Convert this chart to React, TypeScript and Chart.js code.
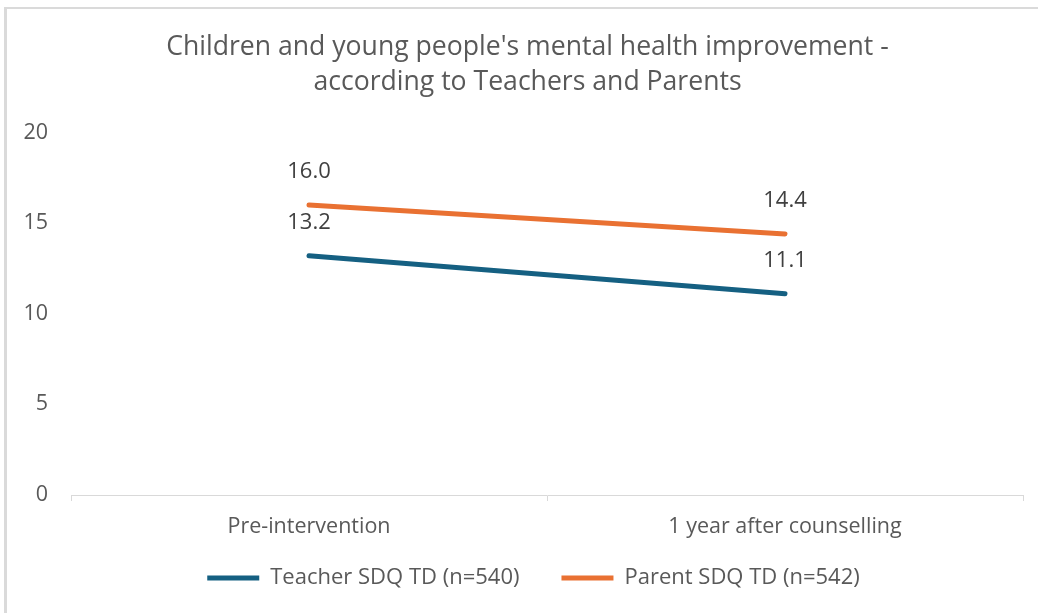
import React, { useEffect, useRef } from "react";
import { Chart, registerables } from "chart.js";

Chart.register(...registerables);

const categories = ["Pre-intervention", "1 year after counselling"];
const teacherValues = [13.2, 11.1];
const parentValues = [16.0, 14.4];
const seriesNames = ["Teacher SDQ TD (n=540)", "Parent SDQ TD (n=542)"];
const seriesColors = ["#156082", "#E97132"];
const titleLines = [
  "Children and young people's mental health improvement -",
  "according to Teachers and Parents",
];
const yMin = 0;
const yMax = 20;
const yStep = 5;

const FONT = "'Open Sans', 'Noto Sans', sans-serif";
const TEXT = "#595959";

const dataLabelPlugin = {
  id: "dataLabels",
  afterDatasetsDraw(chart: any) {
    const ctx = chart.ctx;
    ctx.save();
    ctx.font = `22px ${FONT}`;
    ctx.fillStyle = "#404040";
    ctx.textAlign = "center";
    ctx.textBaseline = "middle";
    chart.data.datasets.forEach((ds: any, di: number) => {
      const meta = chart.getDatasetMeta(di);
      meta.data.forEach((pt: any, i: number) => {
        ctx.fillText(Number(ds.data[i]).toFixed(1), pt.x, pt.y - 33);
      });
    });
    ctx.restore();
  },
};

const layoutTweaks = {
  id: "layoutTweaks",
  afterInit(chart: any) {
    const leg = chart.legend;
    if (leg && !leg.__patched) {
      leg.__patched = true;
      const origFit = leg.fit.bind(leg);
      leg.fit = function () {
        origFit();
        this.height = 68;
      };
      const origDraw = leg.draw.bind(leg);
      leg.draw = function () {
        const c = this.ctx;
        c.save();
        c.translate(22, -20);
        origDraw();
        c.restore();
      };
    }
  },
  afterLayout(chart: any) {
    const t = chart.titleBlock;
    if (t) {
      t.left += 16;
      t.right += 16;
    }
  },
};

export default function App() {
  const ref = useRef<HTMLCanvasElement | null>(null);
  useEffect(() => {
    if (!ref.current) return;
    const chart = new Chart(ref.current, {
      type: "line",
      data: {
        labels: categories,
        datasets: [
          {
            label: seriesNames[0],
            data: teacherValues,
            borderColor: seriesColors[0],
            backgroundColor: seriesColors[0],
            borderWidth: 5,
            borderCapStyle: "round",
            pointRadius: 0,
            pointStyle: "line",
          },
          {
            label: seriesNames[1],
            data: parentValues,
            borderColor: seriesColors[1],
            backgroundColor: seriesColors[1],
            borderWidth: 5,
            borderCapStyle: "round",
            pointRadius: 0,
            pointStyle: "line",
          },
        ],
      },
      options: {
        animation: false,
        responsive: false,
        maintainAspectRatio: false,
        layout: { padding: { left: 0, right: 15, top: 0, bottom: 0 } },
        plugins: {
          tooltip: { enabled: false },
          title: {
            display: true,
            text: titleLines,
            color: TEXT,
            font: { family: FONT, size: 26.6, weight: "normal", lineHeight: 35.2 / 26.6 },
            padding: { top: 30, bottom: 32 },
          },
          legend: {
            display: true,
            position: "bottom",
            labels: {
              color: TEXT,
              font: { family: FONT, size: 22 },
              usePointStyle: true,
              pointStyle: "line",
              pointStyleWidth: 52,
              padding: 42,
            },
          },
        },
        scales: {
          x: {
            type: "category",
            offset: true,
            afterFit(scale: any) {
              scale.height = 50;
            },
            border: { display: true, color: "#d9d9d9", width: 1 },
            grid: {
              display: true,
              offset: true,
              drawOnChartArea: false,
              drawTicks: true,
              tickLength: 6,
              color: "#d9d9d9",
            },
            ticks: {
              color: TEXT,
              font: { family: FONT, size: 21.5 },
              padding: 13,
              maxRotation: 0,
            },
          },
          y: {
            min: yMin,
            max: yMax,
            afterFit(scale: any) {
              scale.width = 71;
            },
            border: { display: false },
            grid: { display: false, drawTicks: false },
            ticks: {
              stepSize: yStep,
              color: TEXT,
              font: { family: FONT, size: 21.5 },
              padding: 23,
            },
          },
        },
      },
      plugins: [dataLabelPlugin, layoutTweaks],
    } as any);
    return () => chart.destroy();
  }, []);

  return (
    <div
      style={{
        position: "fixed",
        left: 0,
        top: 0,
        width: 1038,
        height: 613,
        background: "#ffffff",
        overflow: "hidden",
      }}
    >
      <div
        style={{
          position: "absolute",
          left: 4,
          top: 7,
          width: 1100,
          height: 700,
          borderTop: "2px solid #dadada",
          borderLeft: "3px solid #dadada",
          boxSizing: "border-box",
        }}
      />
      <canvas
        ref={ref}
        width={1038}
        height={613}
        style={{ position: "absolute", left: 0, top: 0, width: 1038, height: 613 }}
      />
    </div>
  );
}
